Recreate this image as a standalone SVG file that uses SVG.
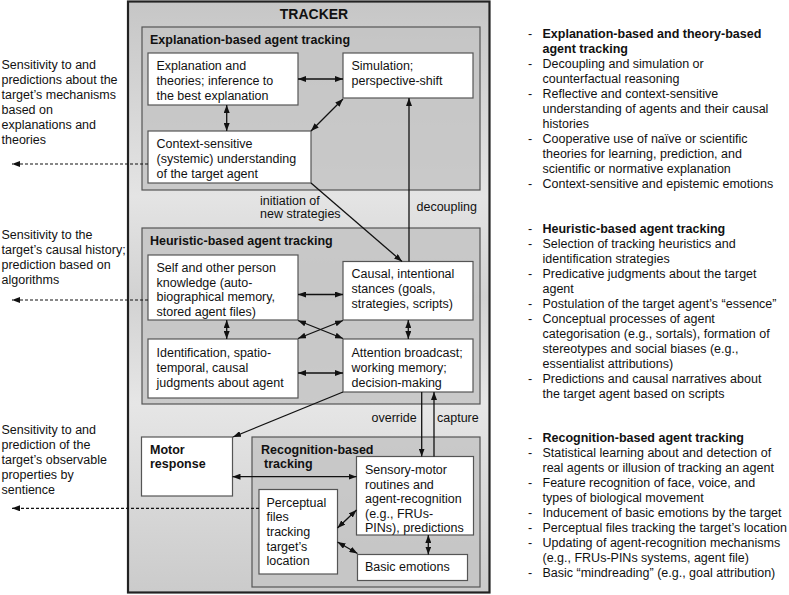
<svg xmlns="http://www.w3.org/2000/svg" width="789" height="595" viewBox="0 0 789 595">
<style>
text{font-family:"Liberation Sans",Arial,sans-serif;font-size:12.5px;fill:#111}
.b{font-weight:bold}
.t{font-size:14px;font-weight:bold}
.box{fill:#fff;stroke:#555;stroke-width:1.2}
.panel{fill:#c4c4c4;fill-opacity:0.85;stroke:#555;stroke-width:1.2}
.c{fill:none;stroke:#111;stroke-width:1.3}
.d{fill:none;stroke:#111;stroke-width:1.2;stroke-dasharray:3 2}
</style>
<defs>
<linearGradient id="bg" x1="0" y1="0" x2="0" y2="1">
<stop offset="0" stop-color="#c6c6c6"/>
<stop offset="0.33" stop-color="#e4e4e4"/>
<stop offset="0.5" stop-color="#d2d2d2"/>
<stop offset="0.68" stop-color="#e6e6e6"/>
<stop offset="1" stop-color="#cbcbcb"/>
</linearGradient>
<marker id="ah" viewBox="0 0 8 6" refX="8" refY="3" markerWidth="8" markerHeight="6" markerUnits="userSpaceOnUse" orient="auto-start-reverse">
<path d="M0,0 L8,3 L0,6 z" fill="#111"/>
</marker>
</defs>
<rect width="789" height="595" fill="#fff"/>
<g id="tracker">
<rect x="128" y="1.5" width="361.5" height="591" fill="url(#bg)" stroke="#222" stroke-width="2.2"/>
<text class="t" x="314" y="19" text-anchor="middle">TRACKER</text>
</g>
<g id="explanation-panel">
<rect class="panel" x="142" y="27" width="338" height="163"/>
<text class="b" x="150" y="44">Explanation-based agent tracking</text>
</g>
<g id="heuristic-panel">
<rect class="panel" x="142" y="228" width="338" height="176"/>
<text class="b" x="150" y="245">Heuristic-based agent tracking</text>
</g>
<g id="recognition-panel">
<rect class="panel" x="252" y="437" width="228" height="150"/>
<text class="b" x="261" y="454">Recognition-based</text>
<text class="b" x="264" y="468">tracking</text>
</g>
<g id="e1">
<rect class="box" x="148" y="53" width="150" height="52"/>
<text x="156.5" y="70">Explanation and</text>
<text x="156.5" y="85">theories; inference to</text>
<text x="156.5" y="100">the best explanation</text>
</g>
<g id="e2">
<rect class="box" x="343" y="53" width="130" height="45"/>
<text x="351.5" y="70">Simulation;</text>
<text x="351.5" y="85">perspective-shift</text>
</g>
<g id="e3">
<rect class="box" x="148" y="131" width="163" height="52"/>
<text x="156.5" y="148">Context-sensitive</text>
<text x="156.5" y="163">(systemic) understanding</text>
<text x="156.5" y="178">of the target agent</text>
</g>
<g id="h1">
<rect class="box" x="148" y="255" width="150" height="65"/>
<text x="156.5" y="272">Self and other person</text>
<text x="156.5" y="286.5">knowledge (auto-</text>
<text x="156.5" y="301">biographical memory,</text>
<text x="156.5" y="315.5">stored agent files)</text>
</g>
<g id="h2">
<rect class="box" x="343" y="261.5" width="130" height="58.5"/>
<text x="351.5" y="277.5">Causal, intentional</text>
<text x="351.5" y="292.5">stances (goals,</text>
<text x="351.5" y="307.5">strategies, scripts)</text>
</g>
<g id="h3">
<rect class="box" x="148" y="339" width="150" height="59"/>
<text x="156.5" y="357">Identification, spatio-</text>
<text x="156.5" y="372">temporal, causal</text>
<text x="156.5" y="386.5">judgments about agent</text>
</g>
<g id="h4">
<rect class="box" x="343" y="339" width="130" height="53"/>
<text x="351.5" y="357">Attention broadcast;</text>
<text x="351.5" y="372">working memory;</text>
<text x="351.5" y="386.5">decision-making</text>
</g>
<g id="motor">
<rect class="box" x="141.5" y="437" width="91" height="59"/>
<text class="b" x="150" y="454">Motor</text>
<text class="b" x="150" y="468">response</text>
</g>
<g id="r1">
<rect class="box" x="356.5" y="456.5" width="117" height="78.5"/>
<text x="365" y="473.5">Sensory-motor</text>
<text x="365" y="488.5">routines and</text>
<text x="365" y="503">agent-recognition</text>
<text x="365" y="517.5">(e.g., FRUs-</text>
<text x="365" y="532">PINs), predictions</text>
</g>
<g id="r2">
<rect class="box" x="259" y="489.5" width="78.5" height="84.5"/>
<text x="266.5" y="506.5">Perceptual</text>
<text x="266.5" y="521">files</text>
<text x="266.5" y="536">tracking</text>
<text x="266.5" y="550.5">target’s</text>
<text x="266.5" y="565">location</text>
</g>
<g id="r3">
<rect class="box" x="357.5" y="554.5" width="110" height="26"/>
<text x="365" y="571">Basic emotions</text>
</g>
<g id="connectors">
<path class="c" d="M298,79 L343,79" marker-start="url(#ah)" marker-end="url(#ah)"/>
<path class="c" d="M226.7,105 L226.7,131" marker-start="url(#ah)" marker-end="url(#ah)"/>
<path class="c" d="M311,131 L343,99" marker-start="url(#ah)" marker-end="url(#ah)"/>
<path class="c" d="M311,183 L402,261.5" marker-end="url(#ah)"/>
<path class="c" d="M409,261.5 L409,98" marker-end="url(#ah)"/>
<path class="c" d="M298,294.5 L343,294.5" marker-start="url(#ah)" marker-end="url(#ah)"/>
<path class="c" d="M226.7,320 L226.7,339" marker-start="url(#ah)" marker-end="url(#ah)"/>
<path class="c" d="M408.3,320 L408.3,339" marker-start="url(#ah)" marker-end="url(#ah)"/>
<path class="c" d="M298,373 L343,373" marker-start="url(#ah)" marker-end="url(#ah)"/>
<path class="c" d="M298,320.5 L343,338.5" marker-start="url(#ah)" marker-end="url(#ah)"/>
<path class="c" d="M343,320.5 L298,338.5" marker-start="url(#ah)" marker-end="url(#ah)"/>
<path class="c" d="M343,392 L233,437" marker-end="url(#ah)"/>
<path class="c" d="M421.7,392 L421.7,456.5" marker-end="url(#ah)"/>
<path class="c" d="M434,456.5 L434,392" marker-end="url(#ah)"/>
<path class="c" d="M232.5,476.7 L356.5,476.7" marker-start="url(#ah)" marker-end="url(#ah)"/>
<path class="c" d="M337.5,528 L356.5,510" marker-start="url(#ah)" marker-end="url(#ah)"/>
<path class="c" d="M337.5,542 L357.5,553.5" marker-start="url(#ah)" marker-end="url(#ah)"/>
<path class="c" d="M428.3,535 L428.3,554.5" marker-start="url(#ah)" marker-end="url(#ah)"/>
<path class="d" d="M148,164 L12,164" marker-end="url(#ah)"/>
<path class="d" d="M148,300 L12,300" marker-end="url(#ah)"/>
<path class="d" d="M259,508.3 L12,508.3" marker-end="url(#ah)"/>
<text x="260" y="205">initiation of</text>
<text x="260" y="218">new strategies</text>
<text x="416.5" y="211">decoupling</text>
<text x="371.5" y="422">override</text>
<text x="437" y="422">capture</text>
</g>
<g id="left-notes">
<text x="1.5" y="68.5">Sensitivity to and</text>
<text x="1.5" y="83.5">predictions about the</text>
<text x="1.5" y="98.5">target’s mechanisms</text>
<text x="1.5" y="113.5">based on</text>
<text x="1.5" y="128.5">explanations and</text>
<text x="1.5" y="143.5">theories</text>
<text x="1.5" y="238.5">Sensitivity to the</text>
<text x="1.5" y="253.5">target’s causal history;</text>
<text x="1.5" y="268.5">prediction based on</text>
<text x="1.5" y="283.5">algorithms</text>
<text x="1.5" y="434">Sensitivity to and</text>
<text x="1.5" y="449">prediction of the</text>
<text x="1.5" y="464">target’s observable</text>
<text x="1.5" y="479">properties by</text>
<text x="1.5" y="493.5">sentience</text>
</g>
<g id="right-notes">
<text x="528" y="38">-</text><text class="b" x="542.5" y="38">Explanation-based and theory-based</text>
<text class="b" x="542.5" y="53">agent tracking</text>
<text x="528" y="68">-</text><text x="542.5" y="68">Decoupling and simulation or</text>
<text x="542.5" y="83">counterfactual reasoning</text>
<text x="528" y="98">-</text><text x="542.5" y="98">Reflective and context-sensitive</text>
<text x="542.5" y="113">understanding of agents and their causal</text>
<text x="542.5" y="128">histories</text>
<text x="528" y="143">-</text><text x="542.5" y="143">Cooperative use of naïve or scientific</text>
<text x="542.5" y="158">theories for learning, prediction, and</text>
<text x="542.5" y="173">scientific or normative explanation</text>
<text x="528" y="188">-</text><text x="542.5" y="188">Context-sensitive and epistemic emotions</text>
<text x="528" y="233">-</text><text class="b" x="542.5" y="233">Heuristic-based agent tracking</text>
<text x="528" y="248">-</text><text x="542.5" y="248">Selection of tracking heuristics and</text>
<text x="542.5" y="263">identification strategies</text>
<text x="528" y="278">-</text><text x="542.5" y="278">Predicative judgments about the target</text>
<text x="542.5" y="293">agent</text>
<text x="528" y="308">-</text><text x="542.5" y="308">Postulation of the target agent’s “essence”</text>
<text x="528" y="323">-</text><text x="542.5" y="323">Conceptual processes of agent</text>
<text x="542.5" y="338">categorisation (e.g., sortals), formation of</text>
<text x="542.5" y="353">stereotypes and social biases (e.g.,</text>
<text x="542.5" y="368">essentialist attributions)</text>
<text x="528" y="383">-</text><text x="542.5" y="383">Predictions and causal narratives about</text>
<text x="542.5" y="398">the target agent based on scripts</text>
<text x="528" y="442">-</text><text class="b" x="542.5" y="442">Recognition-based agent tracking</text>
<text x="528" y="457">-</text><text x="542.5" y="457">Statistical learning about and detection of</text>
<text x="542.5" y="472">real agents or illusion of tracking an agent</text>
<text x="528" y="487">-</text><text x="542.5" y="487">Feature recognition of face, voice, and</text>
<text x="542.5" y="502">types of biological movement</text>
<text x="528" y="517">-</text><text x="542.5" y="517">Inducement of basic emotions by the target</text>
<text x="528" y="532">-</text><text x="542.5" y="532">Perceptual files tracking the target’s location</text>
<text x="528" y="547">-</text><text x="542.5" y="547">Updating of agent-recognition mechanisms</text>
<text x="542.5" y="562">(e.g., FRUs-PINs systems, agent file)</text>
<text x="528" y="577">-</text><text x="542.5" y="577">Basic “mindreading” (e.g., goal attribution)</text>
</g>
</svg>
